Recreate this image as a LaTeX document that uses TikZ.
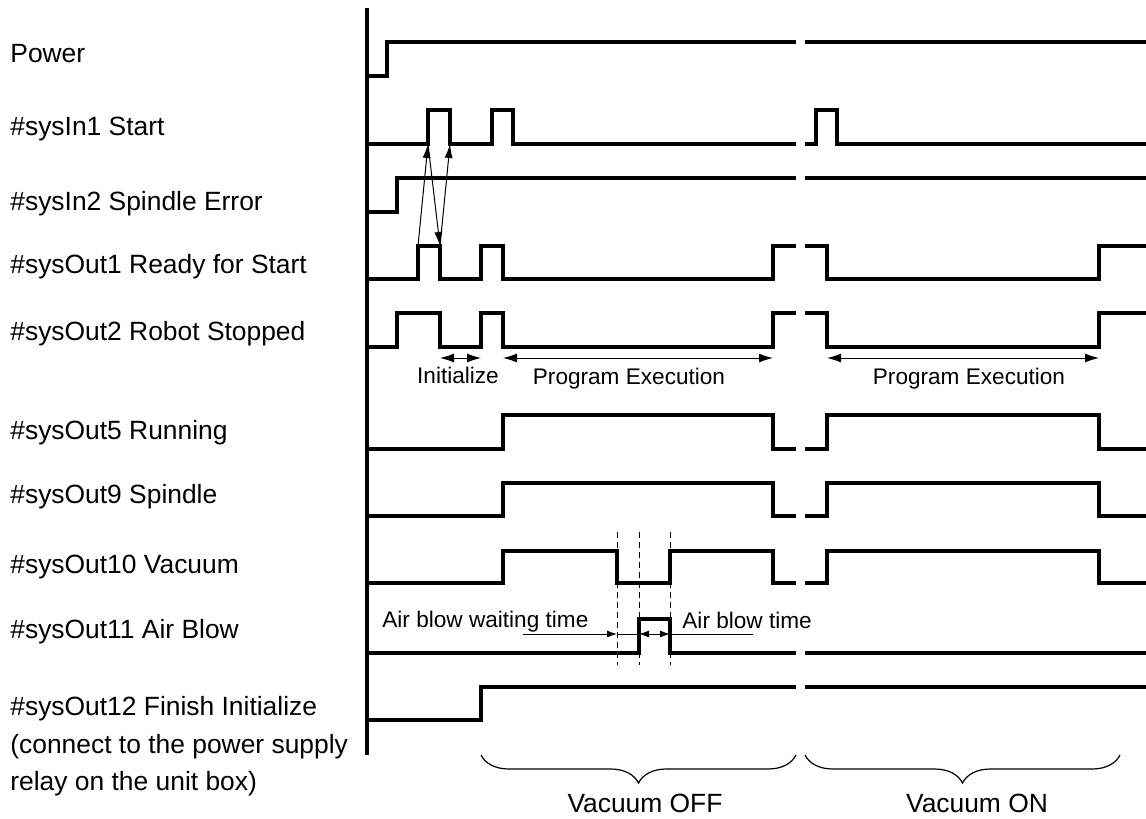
\documentclass[tikz,border=0pt]{standalone}
\usepackage{fontspec}
\setmainfont{Liberation Sans}
\usetikzlibrary{arrows.meta, decorations.pathreplacing}
\newcommand{\chartfont}{\fontsize{11.3}{13.6}\selectfont}
\newcommand{\namefont}{\fontsize{13.2}{15.8}\selectfont}

\begin{document}
\begin{tikzpicture}[
  x=0.5pt, y=-0.5pt,
  sig/.style={line width=1.6pt},
  lbl/.style={anchor=base west, inner sep=0pt, font=\namefont},
  note/.style={anchor=base, inner sep=0pt, font=\chartfont},
  state/.style={anchor=base, inner sep=0pt, font=\namefont},
  arr/.style={-{Latex[length=7pt, width=4pt]}, line width=0.5pt},
  darr/.style={{Latex[length=7pt, width=4.5pt]}-{Latex[length=7pt, width=4.5pt]}, line width=0.5pt},
  sarr/.style={-{Latex[length=5pt, width=3.5pt]}, line width=0.5pt},
  sdarr/.style={{Latex[length=5pt, width=3.5pt]}-{Latex[length=5pt, width=3.5pt]}, line width=0.5pt},
  guide/.style={line width=0.4pt, dash pattern=on 3pt off 2pt},
  brc/.style={decorate, decoration={brace, mirror, amplitude=14pt}, line width=0.6pt}
]
\useasboundingbox (0,0) rectangle (1146,819);

% signal names
\node[lbl] (power) at (10,62) {Power};
\node[lbl] (in1) at (10,135) {\#sysIn1 Start};
\node[lbl] (in2) at (10,210) {\#sysIn2 Spindle Error};
\node[lbl] (out1) at (10,273) {\#sysOut1 Ready for Start};
\node[lbl] (out2) at (10,340) {\#sysOut2 Robot Stopped};
\node[lbl] (out5) at (10,439) {\#sysOut5 Running};
\node[lbl] (out9) at (10,503) {\#sysOut9 Spindle};
\node[lbl] (out10) at (10,573) {\#sysOut10 Vacuum};
\node[lbl] (out11) at (10,638) {\#sysOut11 Air Blow};
\node[lbl] (out12) at (10,715) {\#sysOut12 Finish Initialize};
\node[lbl] (out12a) at (10,753) {(connect to the power supply};
\node[lbl] (out12b) at (10,790) {relay on the unit box)};

% time axis
\draw[sig] (367,8) -- (367,755);

% waveforms
\draw[sig] (367,76) -| (387,42) -- (796,42);
\draw[sig] (805,42) -- (1146,42);
\draw[sig] (367,144) -| (428,110) -| (450,144) -| (492,110) -| (513,144) -- (796,144);
\draw[sig] (805,144) -| (816,110) -| (837,144) -- (1146,144);
\draw[sig] (367,212) -| (397,178) -- (796,178);
\draw[sig] (805,178) -- (1146,178);
\draw[sig] (367,279) -| (418,246) -| (440,279) -| (481,246) -| (503,279) -| (773,246) -- (796,246);
\draw[sig] (805,246) -| (827,279) -| (1099,246) -- (1146,246);
\draw[sig] (367,347) -| (397,313) -| (440,347) -| (481,313) -| (503,347) -| (773,313) -- (796,313);
\draw[sig] (805,313) -| (827,347) -| (1099,313) -- (1146,313);
\draw[sig] (367,449) -| (503,415) -| (773,449) -- (796,449);
\draw[sig] (805,449) -| (827,415) -| (1099,449) -- (1146,449);
\draw[sig] (367,516) -| (503,483) -| (773,516) -- (796,516);
\draw[sig] (805,516) -| (827,483) -| (1099,516) -- (1146,516);
\draw[sig] (367,583) -| (503,551) -| (617,583) -| (670,551) -| (773,583) -- (796,583);
\draw[sig] (805,583) -| (827,551) -| (1099,583) -- (1146,583);
\draw[sig] (367,653) -| (639,619) -| (670,653) -- (796,653);
\draw[sig] (805,653) -- (1146,653);
\draw[sig] (367,720) -| (481,687) -- (796,687);
\draw[sig] (805,687) -- (1146,687);

% start handshake
\coordinate (in1up) at (428,144);
\coordinate (in1dn) at (450,144);
\coordinate (o1up) at (418,246);
\coordinate (o1dn) at (440,246);
\draw[arr] (o1up) -- (in1up);
\draw[arr] (in1up) -- (o1dn);
\draw[arr] (o1dn) -- (in1dn);

% phases
\coordinate (ini0) at (440,358);
\coordinate (ini1) at (481,358);
\coordinate (pe0) at (503,358);
\coordinate (pe1) at (773,358);
\coordinate (pe2) at (827,358);
\coordinate (pe3) at (1099,358);
\draw[darr] (ini0) -- (ini1);
\draw[darr] (pe0) -- (pe1);
\draw[darr] (pe2) -- (pe3);
\node[note] (ini) at (458,383) {Initialize};
\node[note] (pex1) at (629,384) {Program Execution};
\node[note] (pex2) at (969,384) {Program Execution};

% air blow timing
\foreach \gx [count=\i from 0] in {617,639,670}
  \draw[guide] (\gx,532) coordinate (g\i) -- (\gx,665);
\coordinate (wt) at (523,634);
\coordinate (ab0) at (617,634);
\coordinate (ab1) at (639,634);
\coordinate (ab2) at (670,634);
\coordinate (bt) at (753,634);
\draw[sarr] (wt) -- (ab0);
\draw[line width=0.5pt] (ab0) -- (ab1);
\draw[sdarr] (ab1) -- (ab2);
\draw[line width=0.5pt] (ab2) -- (bt);
\node[lbl, font=\chartfont] (wtl) at (382,627) {Air blow waiting time};
\node[lbl, font=\chartfont] (btl) at (682,628) {Air blow time};

% vacuum states
\coordinate (off0) at (481,755);
\coordinate (off1) at (796,755);
\coordinate (on0) at (805,755);
\coordinate (on1) at (1120,755);
\draw[brc] (off0) -- (off1);
\draw[brc] (on0) -- (on1);
\node[state] (voff) at (645,812) {Vacuum OFF};
\node[state] (von) at (977,812) {Vacuum ON};
\end{tikzpicture}
\end{document}
